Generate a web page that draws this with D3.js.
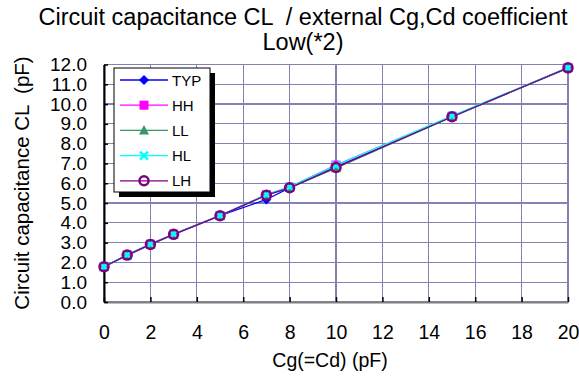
<!DOCTYPE html>
<html><head><meta charset="utf-8">
<script src="https://cdn.jsdelivr.net/npm/d3@7"></script>
<style>body{margin:0;background:#fff}svg{display:block}text{font-family:"Liberation Sans",Arial,sans-serif;fill:#000;white-space:pre}</style>
</head><body><svg id="c" width="579" height="381"></svg>
<script>
const xValues = [0, 1, 2, 3, 5, 7, 8, 10, 15, 20];
const seriesNames = ["TYP", "HH", "LL", "HL", "LH"];
const TYP = [1.78, 2.37, 2.91, 3.42, 4.36, 5.18, 5.77, 6.83, 9.36, 11.83];
const HH  = [1.78, 2.38, 2.92, 3.43, 4.37, 5.42, 5.80, 6.92, 9.38, 11.84];
const LL  = [1.77, 2.36, 2.90, 3.41, 4.35, 5.40, 5.76, 6.76, 9.35, 11.82];
const HL  = [1.79, 2.38, 2.92, 3.43, 4.37, 5.42, 5.82, 6.90, 9.40, 11.84];
const LH  = [1.78, 2.37, 2.91, 3.42, 4.36, 5.40, 5.77, 6.80, 9.36, 11.83];
const xTicks = [0, 2, 4, 6, 8, 10, 12, 14, 16, 18, 20];
const yTicks = [0,1,2,3,4,5,6,7,8,9,10,11,12];
const titleLines = ["Circuit capacitance CL  / external Cg,Cd coefficient", "Low(*2)"];
const xTitle = "Cg(=Cd) (pF)";
const yTitle = "Circuit capacitance CL  (pF)";

const seriesData = [TYP, HH, LL, HL, LH];
const colors = ["#0000ff", "#ff00ff", "#339966", "#00ffff", "#800080"];
const shapes = ["diamond", "square", "triangle", "x", "circle"];

const svg = d3.select("#c");
const L = 104, R = 568, T = 64.5, B = 302;
const x = d3.scaleLinear().domain([0, 20]).range([L, R]);
const y = d3.scaleLinear().domain([0, 12]).range([B, T]);

// title
svg.append("text").attr("x", 303).attr("y", 25).attr("text-anchor", "middle").attr("font-size", 23.5).text(titleLines[0]);
svg.append("text").attr("x", 303).attr("y", 50).attr("text-anchor", "middle").attr("font-size", 23.5).text(titleLines[1]);

// grid
const grid = svg.append("g").attr("stroke", "#8482b4").attr("stroke-width", 1.2).attr("shape-rendering", "crispEdges");
yTicks.forEach(t => grid.append("line").attr("x1", L).attr("x2", R).attr("y1", y(t)).attr("y2", y(t)));
xTicks.forEach(t => grid.append("line").attr("x1", x(t)).attr("x2", x(t)).attr("y1", T).attr("y2", B));

// axes
const xAxis = d3.axisBottom(x).tickValues(xTicks).tickSizeInner(-5).tickSizeOuter(0).tickPadding(23).tickFormat(d3.format("d"));
const gx = svg.append("g").attr("transform", `translate(0,${B})`).call(xAxis);
gx.select(".domain").attr("stroke", "#808080").attr("stroke-width", 2);
gx.selectAll(".tick line").attr("stroke", "#000").attr("stroke-width", 1.5);
gx.selectAll("text").attr("font-size", 19.5).attr("font-family", "Liberation Sans, Arial, sans-serif").attr("fill", "#000");

const yAxis = d3.axisLeft(y).tickValues(yTicks).tickSizeInner(-4).tickSizeOuter(0).tickPadding(17).tickFormat(d3.format(".1f"));
const gy = svg.append("g").attr("transform", `translate(${L},0)`).call(yAxis);
gy.select(".domain").attr("stroke", "#000").attr("stroke-width", 2);
gy.selectAll(".tick line").attr("stroke", "#000").attr("stroke-width", 1.5);
gy.selectAll("text").attr("font-size", 19).attr("font-family", "Liberation Sans, Arial, sans-serif").attr("fill", "#000");

// axis titles
svg.append("text").attr("x", 330).attr("y", 367).attr("text-anchor", "middle").attr("font-size", 19.5).text(xTitle);
svg.append("text").attr("transform", `translate(29,183) rotate(-90)`).attr("text-anchor", "middle").attr("font-size", 20.5).text(yTitle);

// marker drawer
function marker(g, shape, color, cx, cy) {
  if (shape === "diamond") g.append("path").attr("d", `M${cx},${cy-5}L${cx+5},${cy}L${cx},${cy+5}L${cx-5},${cy}Z`).attr("fill", color);
  else if (shape === "square") g.append("rect").attr("x", cx-4.5).attr("y", cy-4.5).attr("width", 9).attr("height", 9).attr("fill", color);
  else if (shape === "triangle") g.append("path").attr("d", `M${cx},${cy-5.5}L${cx+5},${cy+4}L${cx-5},${cy+4}Z`).attr("fill", color);
  else if (shape === "x") g.append("path").attr("d", `M${cx-4},${cy-4}L${cx+4},${cy+4}M${cx-4},${cy+4}L${cx+4},${cy-4}`).attr("stroke", color).attr("stroke-width", 2.5).attr("fill", "none");
  else if (shape === "circle") g.append("circle").attr("cx", cx).attr("cy", cy).attr("r", 4.5).attr("fill", "none").attr("stroke", color).attr("stroke-width", 2.5);
}

// lines
const line = d3.line().x(d => x(d[0])).y(d => y(d[1]));
seriesData.forEach((vals, i) => {
  const pts = xValues.map((xv, j) => [xv, vals[j]]);
  svg.append("path").datum(pts).attr("d", line).attr("fill", "none").attr("stroke", colors[i]).attr("stroke-width", 1.3);
});
seriesData.forEach((vals, i) => {
  const g = svg.append("g");
  xValues.forEach((xv, j) => marker(g, shapes[i], colors[i], x(xv), y(vals[j])));
});

// legend
const lg = svg.append("g");
lg.append("rect").attr("x", 119).attr("y", 73).attr("width", 96).attr("height", 124).attr("fill", "#000");
lg.append("rect").attr("x", 114).attr("y", 68).attr("width", 96).attr("height", 124).attr("fill", "#fff").attr("stroke", "#000").attr("stroke-width", 1);
seriesNames.forEach((n, i) => {
  const ly = 80 + i * 25.2;
  lg.append("line").attr("x1", 120).attr("x2", 168).attr("y1", ly).attr("y2", ly).attr("stroke", colors[i]).attr("stroke-width", 1.3);
  marker(lg, shapes[i], colors[i], 144, ly);
  lg.append("text").attr("x", 172).attr("y", ly + 5.5).attr("font-size", 15).text(n);
});
</script></body></html>
